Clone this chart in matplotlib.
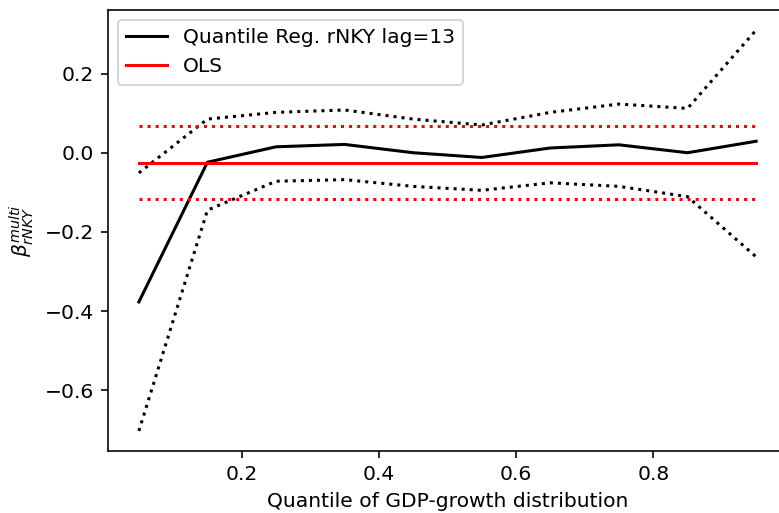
import numpy as np
import matplotlib
matplotlib.use("Agg")
import matplotlib.pyplot as plt

# quantile regression coefficients of rNKY (lag 13) across GDP-growth quantiles
quantiles = [0.05, 0.15, 0.25, 0.35, 0.45, 0.55, 0.65, 0.75, 0.85, 0.95]
qr_coef = [-0.377, -0.024, 0.015, 0.021, 0.0, -0.012, 0.012, 0.020, 0.0, 0.029]
qr_upper = [-0.051, 0.085, 0.102, 0.108, 0.085, 0.070, 0.102, 0.123, 0.112, 0.310]
qr_lower = [-0.703, -0.145, -0.072, -0.068, -0.085, -0.095, -0.076, -0.085, -0.111, -0.263]

# OLS estimate with confidence band
ols_coef = -0.025
ols_upper = 0.067
ols_lower = -0.118

DPI = 146


def main():
    fig = plt.figure(figsize=(779 / DPI, 513 / DPI), dpi=DPI)
    ax = fig.add_axes([108 / 779, 1 - 451 / 513, 679 / 779, 441 / 513])

    x = np.array(quantiles)
    ax.plot(x, qr_coef, color="black", label="Quantile Reg. rNKY lag=13")
    ax.plot(x, qr_upper, color="black", linestyle="dotted")
    ax.plot(x, qr_lower, color="black", linestyle="dotted")

    ax.plot(x, [ols_coef] * len(x), color="red", label="OLS")
    ax.plot(x, [ols_upper] * len(x), color="red", linestyle="dotted")
    ax.plot(x, [ols_lower] * len(x), color="red", linestyle="dotted")

    ax.set_xlabel("Quantile of GDP-growth distribution")
    ax.set_ylabel(r"$\beta^{multi}_{rNKY}$")
    ax.legend(loc="upper left")

    fig.savefig("out.png", dpi=DPI)


if __name__ == '__main__':
    main()
